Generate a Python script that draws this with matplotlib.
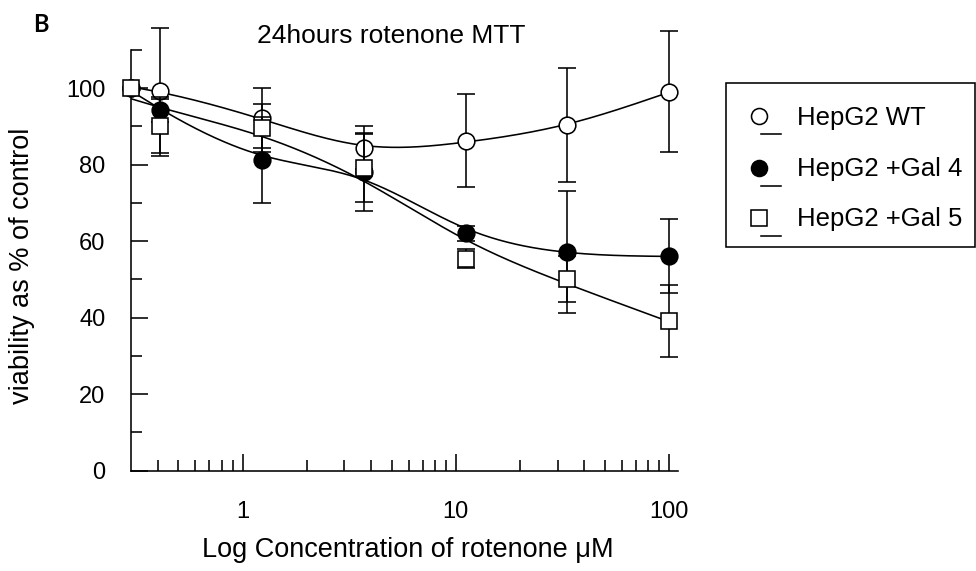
import numpy as np
import matplotlib
matplotlib.use("Agg")
import matplotlib.pyplot as plt
from matplotlib import ticker
from matplotlib.patches import Rectangle

# ---------------- data ----------------
conc = [0.3, 0.41, 1.23, 3.7, 11.1, 33.3, 100]          # µM (0.3 = control)
series_names = ["HepG2 WT", "HepG2 +Gal 4", "HepG2 +Gal 5"]
wt_mean = [100, 99.4, 92.2, 84.4, 86.3, 90.4, 99.1]
wt_err = [0, 16.3, 7.9, 5.6, 12.2, 14.8, 15.8]
gal4_mean = [100, 94.2, 81.3, 78.0, 62.1, 57.2, 56.2]
gal4_err = [0, 3.0, 11.3, 10.0, 2.0, 16.0, 9.7]
gal5_mean = [100, 90.0, 89.6, 79.2, 55.4, 50.2, 39.2]
gal5_err = [0, 7.8, 6.3, 9.0, 2.5, 6.0, 9.4]

y_major = [0, 20, 40, 60, 80, 100]
y_minor = [10, 30, 50, 70, 90, 110]
x_major = [1, 10, 100]
x_major_labels = ["1", "10", "100"]
x_minor = [0.4, 0.5, 0.6, 0.7, 0.8, 0.9, 2, 3, 4, 5, 6, 7, 8, 9,
           20, 30, 40, 50, 60, 70, 80, 90]

title = "24hours rotenone MTT"
xlabel = "Log Concentration of rotenone μM"
ylabel = "viability as % of control"
panel = "B"


def smooth_curve(x, y, lam, n=400):
    """Penalised (smoothing) spline through the data in log-x."""
    lx = np.log10(x)
    t = np.linspace(lx[0], lx[-1], n)
    h = t[1] - t[0]
    A = np.zeros((len(lx), n))
    for i, v in enumerate(lx):
        j = min(int((v - t[0]) / h), n - 2)
        w = (v - t[j]) / h
        A[i, j] = 1 - w
        A[i, j + 1] = w
    D = np.diff(np.eye(n), 2, axis=0) / h ** 2
    M = A.T @ A + lam * h * D.T @ D
    f = np.linalg.solve(M, A.T @ np.asarray(y, float))
    return 10 ** t, f


# ---------------- style ----------------
plt.rcParams["font.family"] = ["Liberation Sans", "DejaVu Sans"]
LW = 1.15
styles = [
    dict(marker="o", mfc="white", smooth=0.003),
    dict(marker="o", mfc="black", smooth=0.004),
    dict(marker="s", mfc="white", smooth=0.03),
]
means = [wt_mean, gal4_mean, gal5_mean]
errs = [wt_err, gal4_err, gal5_err]

W, H = 976, 571
fig = plt.figure(figsize=(W / 100, H / 100), dpi=100)
x0, x1, ytop, ybot = 131, 678, 50, 470.7
ax = fig.add_axes([x0 / W, 1 - ybot / H, (x1 - x0) / W, (ybot - ytop) / H])
ax.set_xscale("log")
ax.set_xlim(0.3, 110)
ax.set_ylim(0, 110)

# fitted curves
for m, st in zip(means, styles):
    xs, ys = smooth_curve(conc, m, st["smooth"])
    ax.plot(xs, ys, color="black", lw=LW, zorder=2)

# error bars and markers
for i, (m, e, st) in enumerate(zip(means, errs, styles)):
    ax.errorbar(conc[1:], m[1:], yerr=e[1:], fmt="none", ecolor="black",
                elinewidth=LW, capsize=6.5, capthick=LW, zorder=3 + 2 * i,
                clip_on=False)
    ax.plot(conc, m, ls="none", marker=st["marker"], ms=12,
            mfc=st["mfc"], mec="black", mew=LW, zorder=4 + 2 * i, clip_on=False)

# axes styling
for s in ["top", "right"]:
    ax.spines[s].set_visible(False)
for s in ["left", "bottom"]:
    ax.spines[s].set_linewidth(LW)
ax.set_yticks(y_major)
ax.set_yticks(y_minor, minor=True)
ax.set_xticks(x_major)
ax.set_xticklabels(x_major_labels)
ax.set_xticks(x_minor, minor=True)
ax.xaxis.set_minor_formatter(ticker.NullFormatter())
ax.tick_params(which="major", direction="in", length=12, width=LW, labelsize=17)
ax.tick_params(which="minor", direction="in", length=8, width=LW)
ax.tick_params(axis="y", which="major", pad=18.5)
ax.tick_params(axis="x", which="major", pad=22)

# texts
fig.text(391 / W, 1 - 42.7 / H, title, ha="center", va="baseline", fontsize=19)
fig.text(408 / W, 1 - 556.7 / H, xlabel, ha="center", va="baseline", fontsize=19.5)
fig.text(22 / W, 1 - 266 / H, ylabel, ha="center", va="center", rotation=90,
         fontsize=19.5)
fig.text(41 / W, 1 - 25 / H, panel, ha="center", va="center", fontsize=17,
         fontweight="bold", family=["Lato", "DejaVu Sans"])

# legend (SigmaPlot style: marker above a short line)
ov = fig.add_axes([0, 0, 1, 1], zorder=10)
ov.set_xlim(0, W)
ov.set_ylim(H, 0)
ov.axis("off")
ov.add_patch(Rectangle((726, 82.7), 249, 164, fill=False, lw=LW, ec="black"))
row_y = [115.8, 167.5, 217.5]
for name, st, ry in zip(series_names, styles, row_y):
    ov.plot([759], [ry], ls="none", marker=st["marker"], ms=11.5,
            mfc=st["mfc"], mec="black", mew=LW)
    ov.plot([761, 781], [ry + 18.5, ry + 18.5], color="black", lw=LW)
    ov.text(797, ry + 8.7, name, ha="left", va="baseline", fontsize=18.5)

fig.savefig("out.png", dpi=100)
